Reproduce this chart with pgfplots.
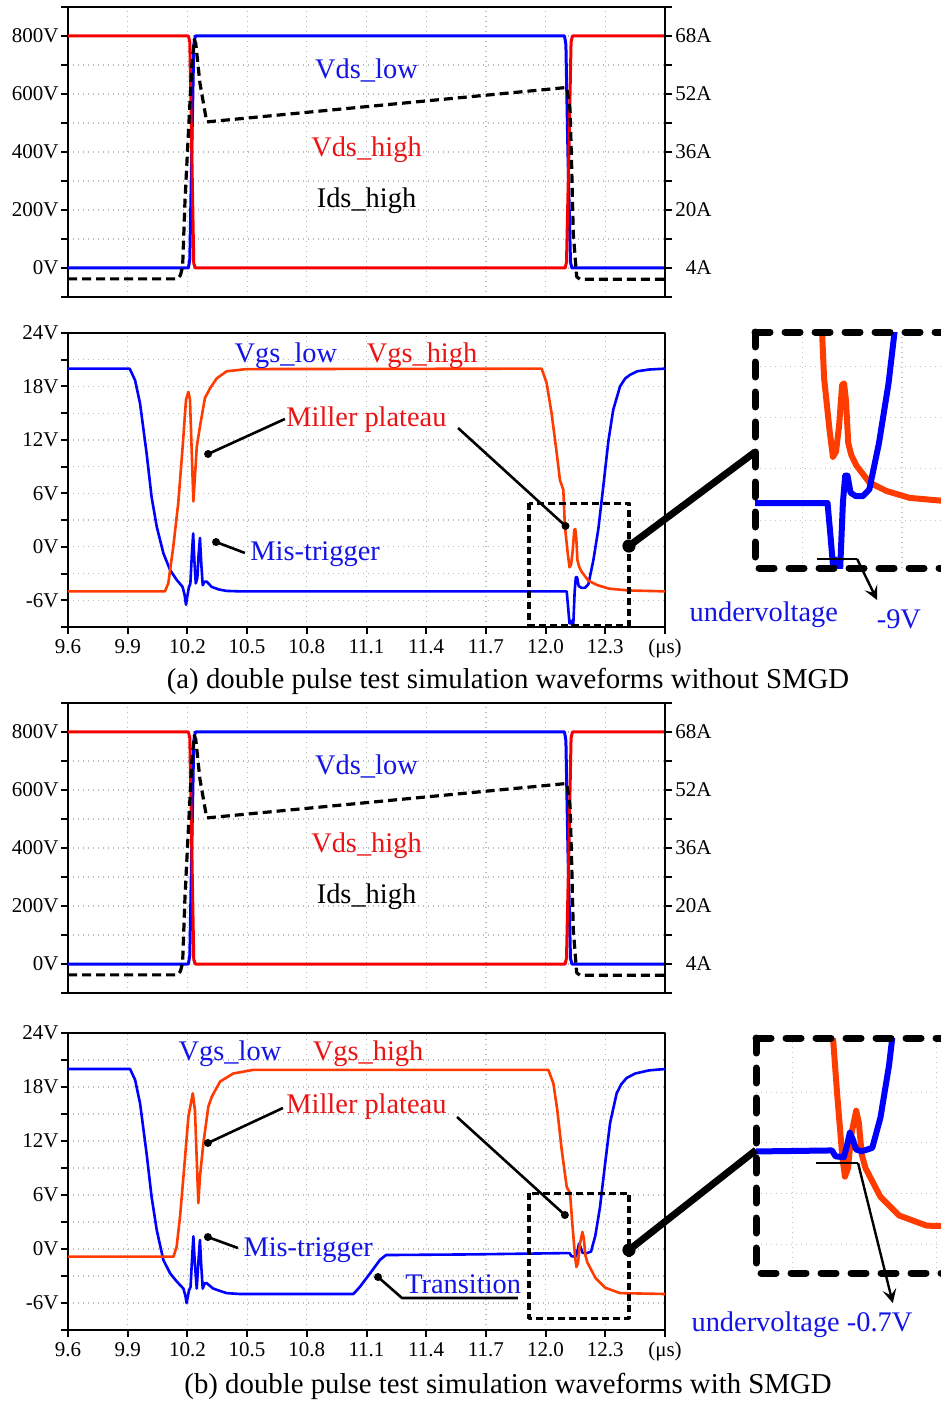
\documentclass[border=0pt]{standalone}
\usepackage{fontspec}
\setmainfont{Liberation Serif}
\usepackage{pgfplots}
\usepackage{pgfplotstable}
\pgfplotsset{compat=1.18}
\usetikzlibrary{arrows.meta}

\definecolor{lblue}{RGB}{0,0,255}
\definecolor{lred}{RGB}{245,0,0}
\definecolor{gred}{RGB}{255,60,0}
\definecolor{tblue}{RGB}{20,20,230}
\definecolor{tred}{RGB}{235,20,20}
\newcommand\ann{\fontsize{14.2}{17}\selectfont}
\newcommand\capfont{\fontsize{14.4}{17}\selectfont}
\tikzset{insetbox/.style={line width=3.5pt, line cap=round, dash pattern=on 7.5pt off 7.5pt}}

% ---------- Vds / Ids (both panels) ----------
\pgfplotstableread{
x y
9.6 800
10.205 800
10.212 780
10.222 400
10.232 15
10.24 0
12.098 0
12.105 20
12.117 400
12.128 780
12.135 800
12.6 800
}\vdshigh
\pgfplotstableread{
x y
9.6 0
10.205 0
10.212 30
10.222 400
10.232 770
10.24 800
12.095 800
12.102 770
12.112 400
12.125 20
12.132 0
12.6 0
}\vdslow
\pgfplotstableread{
x y
9.6 1.0
10.15 1.0
10.165 2.0
10.176 4.4
10.188 22.7
10.205 41.2
10.222 59.5
10.234 67
10.242 66
10.263 55
10.297 44.3
12.106 53.8
12.123 47.6
12.131 31.9
12.139 13.6
12.156 1.6
12.173 0.9
12.6 0.9
}\idshigh

% ---------- Vgs panel (a) ----------
\pgfplotstableread{
x y
9.6 20
9.91 20
9.937 18.7
9.962 16.1
9.995 10.5
10.02 5.6
10.046 2.25
10.079 -0.7
10.113 -2.6
10.146 -3.7
10.176 -4.5
10.186 -5.4
10.193 -6.5
10.2 -5.5
10.207 -4.6
10.215 -4.1
10.222 -1
10.229 1.5
10.235 -1.5
10.242 -4.1
10.25 -3.5
10.256 -1
10.263 1.0
10.27 -2
10.277 -4.3
10.287 -3.9
10.297 -3.9
10.322 -4.5
10.36 -4.8
10.397 -4.95
10.464 -5.0
12.106 -5.0
12.114 -7.0
12.12 -8.6
12.127 -8.3
12.133 -8.8
12.139 -8.8
12.146 -5.0
12.152 -3.4
12.158 -3.4
12.166 -4.4
12.18 -4.6
12.198 -4.6
12.215 -4.2
12.24 -1.5
12.265 2.0
12.29 6.8
12.315 11.8
12.34 15.4
12.374 18.0
12.4 18.9
12.424 19.3
12.46 19.7
12.52 19.9
12.6 20
}\vgslowa
\pgfplotstableread{
x y
9.6 -5
10.087 -5
10.104 -4.1
10.129 0
10.154 4.9
10.176 11.2
10.193 16.5
10.205 17.4
10.213 16.5
10.222 10.5
10.23 5.1
10.238 7.9
10.247 11.2
10.263 13.5
10.288 16.7
10.314 17.8
10.347 18.9
10.397 19.7
10.498 19.95
11.98 20
12.005 18.4
12.03 15.0
12.056 10.5
12.072 7.5
12.089 6.4
12.097 2.3
12.111 -0.7
12.12 -2.3
12.128 -2.0
12.136 -0.5
12.144 1.9
12.149 2.0
12.154 1.0
12.16 -1.5
12.168 -2.2
12.181 -2.8
12.215 -3.8
12.26 -4.3
12.32 -4.7
12.42 -4.9
12.6 -5.0
}\vgshigha

% ---------- Vgs panel (b) ----------
\pgfplotstableread{
x y
9.6 20
9.912 20
9.937 18.8
9.962 16.2
9.995 10.6
10.02 5.8
10.046 2.1
10.079 -1.2
10.113 -2.7
10.146 -3.6
10.18 -4.4
10.19 -5.2
10.196 -6.0
10.202 -5.3
10.208 -4.6
10.216 -4.2
10.223 -1.2
10.23 1.4
10.237 -1.5
10.247 -4.4
10.255 -1.5
10.263 1.0
10.27 -2
10.277 -4.4
10.287 -3.8
10.297 -3.8
10.33 -4.4
10.397 -4.9
10.464 -5.0
11.034 -5.0
11.067 -4.2
11.118 -2.7
11.168 -1.2
11.198 -0.67
11.62 -0.6
12.12 -0.45
12.13 -0.8
12.152 -0.85
12.16 -0.2
12.168 0.6
12.176 0.2
12.185 -0.4
12.2 -0.5
12.228 -0.3
12.25 1.5
12.273 4.6
12.298 9.3
12.324 14.0
12.357 17.3
12.38 18.3
12.407 19.0
12.45 19.5
12.52 19.85
12.6 20
}\vgslowb
\pgfplotstableread{
x y
9.6 -0.85
10.13 -0.85
10.146 0.26
10.163 3.6
10.183 8.8
10.205 14.7
10.227 17.3
10.238 15.4
10.247 9.9
10.255 5.1
10.263 8.0
10.28 11.7
10.305 15.8
10.322 16.9
10.364 18.6
10.43 19.5
10.53 19.9
12.014 19.9
12.039 18.4
12.059 15.4
12.081 11.0
12.106 6.9
12.123 6.2
12.134 2.9
12.148 -0.85
12.155 -2.0
12.163 -1.5
12.172 0.5
12.185 1.9
12.192 1.2
12.2 -0.7
12.21 -1.5
12.25 -3.2
12.3 -4.3
12.374 -4.9
12.6 -5.0
}\vgshighb

\pgfplotsset{
  common/.style={
    scale only axis, width=298.5pt, xmin=9.6, xmax=12.6, anchor=south west,
    axis line style={line width=1pt},
    tick style={black, line width=1pt},
    tick align=outside, major tick length=3.5pt, minor tick length=3.5pt,
    grid style={gray!55, line width=0.6pt, dash pattern=on 0.7pt off 1.8pt},
    minor grid style={gray!55, line width=0.6pt, dash pattern=on 0.7pt off 1.8pt},
    xmajorgrids, ymajorgrids, yminorgrids,
    ticklabel style={font=\fontsize{10.5}{12}\selectfont, inner sep=1pt},
    xticklabel style={yshift=-1.5pt},
    xtick={9.6,9.9,10.2,10.5,10.8,11.1,11.4,11.7,12.0,12.3,12.6},
    ytick pos=left, xtick pos=bottom,
  },
  vds/.style={common, height=145pt, ymin=-100, ymax=900,
    ytick={0,200,400,600,800}, yticklabels={0V,200V,400V,600V,800V},
    minor ytick={-100,100,300,500,700,900},
    xticklabels={}, xtick style={opacity=0}},
  amp/.style={scale only axis, width=298.5pt, height=145pt, anchor=south west,
    xmin=9.6, xmax=12.6, ymin=-4, ymax=76,
    axis y line*=right, axis x line=none,
    axis line style={line width=1pt},
    tick style={black, line width=1pt},
    tick align=outside, major tick length=3.5pt, minor tick length=3.5pt,
    ytick={4,20,36,52,68}, yticklabels={4A,20A,36A,52A,68A},
    minor ytick={-4,12,28,44,60,76},
    yticklabel style={font=\fontsize{10.5}{12}\selectfont, inner sep=1pt, anchor=east, xshift=21pt}},
  vgs/.style={common, ymin=-9, ymax=24,
    ytick={-6,0,6,12,18,24}, yticklabels={-6V,0V,6V,12V,18V,24V},
    minor ytick={-9,-3,3,9,15,21},
    xticklabels={9.6,9.9,10.2,10.5,10.8,11.1,11.4,11.7,12.0,12.3,(μs)}},
  inset/.style={scale only axis, anchor=south west, xmin=11.917, xmax=12.42,
    axis line style={draw=none}, xticklabels={}, yticklabels={},
    major tick length=0pt, tick style={draw=none},
    xtick={12.04,12.3}, ytick={-6,-3,0,3},
    grid=major, grid style={gray!45, line width=0.6pt, dash pattern=on 0.7pt off 1.8pt},
    clip mode=individual},
}

\begin{document}
\begin{tikzpicture}[line join=round]
% ================= Panel 1: Vds (a) =================
\begin{axis}[vds, at={(34pt,-148.5pt)}]
\addplot[lblue, line width=1.5pt] table {\vdslow};
\addplot[lred, line width=1.5pt] table {\vdshigh};
\node[tblue, anchor=base, font=\ann] at (axis cs:11.10,652) {Vds\_low};
\node[tred, anchor=base, font=\ann] at (axis cs:11.10,383) {Vds\_high};
\node[black, anchor=base, font=\ann] at (axis cs:11.10,207) {Ids\_high};
\end{axis}
\begin{axis}[amp, at={(34pt,-148.5pt)}]
\addplot[black, line width=1.6pt, dash pattern=on 4.5pt off 2.5pt] table {\idshigh};
\end{axis}

% ================= Panel 2: Vgs (a) =================
\begin{axis}[vgs, height=147pt, at={(34pt,-313.5pt)}]
\addplot[lblue, line width=1.3pt] table {\vgslowa};
\addplot[gred, line width=1.3pt] table {\vgshigha};
\node[tblue, anchor=base, font=\ann] at (axis cs:10.695,20.74) {Vgs\_low};
\node[tred, anchor=base, font=\ann] at (axis cs:11.379,20.74) {Vgs\_high};
\node[tred, anchor=base, font=\ann] at (axis cs:11.10,13.56) {Miller plateau};
\node[tblue, anchor=base west, inner sep=0pt, font=\ann] at (axis cs:10.515,-1.56) {Mis-trigger};
\draw[line width=1.3pt] (axis cs:10.69,14.35) -- (axis cs:10.304,10.42);
\fill (axis cs:10.304,10.42) circle (2pt);
\draw[line width=1.3pt] (axis cs:11.56,13.34) -- (axis cs:12.10,2.34);
\fill (axis cs:12.10,2.34) circle (2pt);
\draw[line width=1.3pt] (axis cs:10.489,-0.69) -- (axis cs:10.344,0.54);
\fill (axis cs:10.344,0.54) circle (2pt);
\draw[line width=1.6pt, dash pattern=on 3.5pt off 2pt] (axis cs:11.917,4.9) rectangle (axis cs:12.419,-8.8);
\coordinate (ca1) at (axis cs:12.419,0.09);
\end{axis}

% inset (a)
\begin{axis}[inset, width=96.5pt, height=118pt, at={(377.5pt,-284pt)}, ymin=-8.8, ymax=5.0]
\addplot[gred, line width=3pt] table {\vgshigha};
\addplot[lblue, line width=3pt] table {\vgslowa};
\draw[insetbox] (rel axis cs:0,1) -- (rel axis cs:1.05,1);
\draw[insetbox] (rel axis cs:0,1) -- (rel axis cs:0,0) -- (rel axis cs:1.05,0);
\draw[line width=1.2pt] (axis cs:12.078,-8.27) -- (axis cs:12.183,-8.27);
\draw[line width=1.2pt, -{Stealth[length=7pt,width=7pt,inset=3pt]}] (axis cs:12.183,-8.27) -- (axis cs:12.235,-10.67);
\node[tblue, anchor=base, font=\ann] at (axis cs:11.94,-11.94) {undervoltage};
\node[tblue, anchor=base, font=\ann] at (axis cs:12.292,-12.31) {-9V};
\coordinate (ca2) at (axis cs:11.917,-2.02);
\end{axis}
\draw[line width=3.5pt] (ca1) -- (ca2);
\fill (ca1) circle (3.3pt);

% ================= Panel 3: Vds (b) =================
\begin{axis}[vds, at={(34pt,-496.5pt)}]
\addplot[lblue, line width=1.5pt] table {\vdslow};
\addplot[lred, line width=1.5pt] table {\vdshigh};
\node[tblue, anchor=base, font=\ann] at (axis cs:11.10,652) {Vds\_low};
\node[tred, anchor=base, font=\ann] at (axis cs:11.10,383) {Vds\_high};
\node[black, anchor=base, font=\ann] at (axis cs:11.10,207) {Ids\_high};
\end{axis}
\begin{axis}[amp, at={(34pt,-496.5pt)}]
\addplot[black, line width=1.6pt, dash pattern=on 4.5pt off 2.5pt] table {\idshigh};
\end{axis}

% ================= Panel 4: Vgs (b) =================
\begin{axis}[vgs, height=148.5pt, at={(34pt,-665pt)}]
\addplot[lblue, line width=1.3pt] table {\vgslowb};
\addplot[gred, line width=1.3pt] table {\vgshighb};
\node[tblue, anchor=base, font=\ann] at (axis cs:10.414,21.0) {Vgs\_low};
\node[tred, anchor=base, font=\ann] at (axis cs:11.108,21.0) {Vgs\_high};
\node[tred, anchor=base, font=\ann] at (axis cs:11.10,15.1) {Miller plateau};
\node[tblue, anchor=base west, inner sep=0pt, font=\ann] at (axis cs:10.48,-0.78) {Mis-trigger};
\node[tblue, anchor=base west, inner sep=0pt, font=\ann] at (axis cs:11.293,-4.89) {Transition};
\draw[line width=1.3pt] (axis cs:10.68,15.67) -- (axis cs:10.303,11.78);
\fill (axis cs:10.303,11.78) circle (2pt);
\draw[line width=1.3pt] (axis cs:11.555,14.67) -- (axis cs:12.097,3.78);
\fill (axis cs:12.097,3.78) circle (2pt);
\draw[line width=1.3pt] (axis cs:10.454,0.11) -- (axis cs:10.303,1.33);
\fill (axis cs:10.303,1.33) circle (2pt);
\draw[line width=1.3pt] (axis cs:11.158,-3.11) -- (axis cs:11.278,-5.44) -- (axis cs:11.861,-5.44);
\fill (axis cs:11.158,-3.11) circle (2pt);
\draw[line width=1.6pt, dash pattern=on 3.5pt off 2pt] (axis cs:11.917,6.2) rectangle (axis cs:12.419,-7.7);
\coordinate (cb1) at (axis cs:12.419,-0.11);
\end{axis}

% inset (b)
\begin{axis}[inset, width=94pt, height=117.5pt, at={(378pt,-636.5pt)}, ymin=-7.7, ymax=6.2, xtick={12.015,12.4}]
\addplot[gred, line width=3pt] table {\vgshighb};
\addplot[lblue, line width=3pt] table {\vgslowb};
\draw[insetbox] (rel axis cs:0,1) -- (rel axis cs:1.05,1);
\draw[insetbox] (rel axis cs:0,1) -- (rel axis cs:0,0) -- (rel axis cs:1.05,0);
\draw[line width=1.2pt] (axis cs:12.077,-1.2) -- (axis cs:12.19,-1.2);
\draw[line width=1.2pt, -{Stealth[length=7pt,width=7pt,inset=3pt]}] (axis cs:12.19,-1.2) -- (axis cs:12.283,-9.48);
\node[tblue, anchor=base, font=\ann] at (axis cs:12.04,-11.18) {undervoltage -0.7V};
\coordinate (cb2) at (axis cs:11.917,-0.43);
\end{axis}
\draw[line width=3.5pt] (cb1) -- (cb2);
\fill (cb1) circle (3.3pt);

% captions
\node[anchor=base, font=\capfont] at (254pt,-344pt) {(a) double pulse test simulation waveforms without SMGD};
\node[anchor=base, font=\capfont] at (254pt,-696.5pt) {(b) double pulse test simulation waveforms with SMGD};

\pgfresetboundingbox
\path[use as bounding box] (0pt,0pt) rectangle (470.5pt,-700.5pt);
\end{tikzpicture}
\end{document}
